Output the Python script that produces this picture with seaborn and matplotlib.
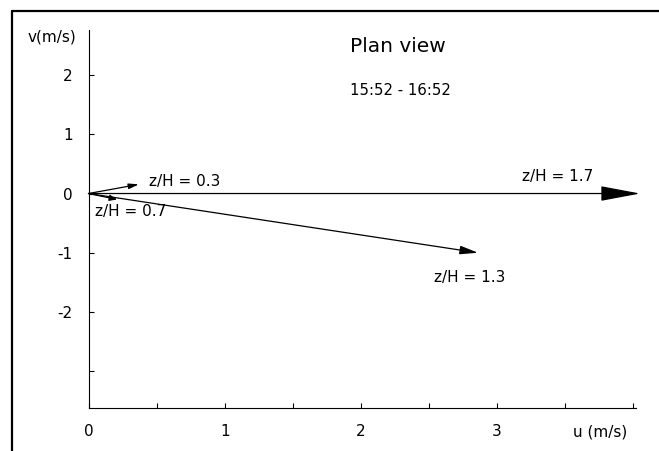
import matplotlib
matplotlib.use("Agg")
import matplotlib.pyplot as plt
from matplotlib.lines import Line2D
from matplotlib.ticker import MultipleLocator
import seaborn as sns

# velocity vectors (m/s) at each height
levels = ["z/H = 0.3", "z/H = 0.7", "z/H = 1.3", "z/H = 1.7"]
u_vals = [0.37, 0.21, 2.86, 4.05]
v_vals = [0.155, -0.10, -1.00, 0.0]

x_ticks = [0, 1, 2, 3, 4]
x_tick_labels = ["0", "1", "2", "3", ""]
y_ticks = [-3, -2, -1, 0, 1, 2]
y_tick_labels = ["", "-2", "-1", "0", "1", "2"]

# arrowhead sizes (points) and label offsets (points) per arrow
head_len = [6, 4.5, 11, 25]
head_wid = [1.6, 1.8, 2.6, 4.7]
label_off = [(7, 1.9, "left"), (-15.8, -8.4, "left"), (-31.7, -17.9, "left"), (-33.8, 12.1, "right")]

sns.set_style("ticks")
plt.rcParams["font.family"] = ["DejaVu Sans"]
plt.rcParams["text.color"] = "black"
plt.rcParams["xtick.color"] = "black"
plt.rcParams["ytick.color"] = "black"

W, H = 659, 451
fig = plt.figure(figsize=(W / 100, H / 100), dpi=100)
ax = fig.add_axes([88.5 / W, 1 - 408 / H, (636 - 88.5) / W, (408 - 30) / H])

ax.set_xlim(0, 4.02)
ax.set_ylim(-3.62, 2.76)

for i in range(len(levels)):
    ax.annotate("", xy=(u_vals[i], v_vals[i]), xytext=(0, 0),
                arrowprops=dict(arrowstyle=f"-|>,head_length={head_len[i]},head_width={head_wid[i]}",
                                mutation_scale=1, lw=0.9, color="black",
                                shrinkA=0, shrinkB=0),
                annotation_clip=False)
    dx, dy, ha = label_off[i]
    ax.annotate(levels[i], xy=(u_vals[i], v_vals[i]), xytext=(dx, dy),
                textcoords="offset points", ha=ha, va="center", fontsize=11,
                color="black", annotation_clip=False)

ax.set_xticks(x_ticks)
ax.set_xticklabels(x_tick_labels)
ax.xaxis.set_minor_locator(MultipleLocator(0.5))
ax.set_yticks(y_ticks)
ax.set_yticklabels(y_tick_labels)
ax.tick_params(which="both", direction="in", length=3.6, width=0.8, color="black")
ax.tick_params(axis="both", labelsize=11, pad=11.5, labelcolor="black")
sns.despine(ax=ax)
for s in ["left", "bottom"]:
    ax.spines[s].set_linewidth(0.8)
    ax.spines[s].set_color("black")

fig.text(51.7 / W, 1 - 36.7 / H, "v(m/s)", ha="center", va="center", fontsize=11)
fig.text(573 / W, 1 - 431.7 / H, "u (m/s)", ha="left", va="center", fontsize=11)
fig.text(350 / W, 1 - 46 / H, "Plan view", ha="left", va="center", fontsize=14.5)
fig.text(350 / W, 1 - 90.5 / H, "15:52 - 16:52", ha="left", va="center", fontsize=10.7)

# outer frame (top and left edges)
fig.add_artist(Line2D([12 / W, 1], [1 - 11 / H, 1 - 11 / H], color="black", lw=1.6))
fig.add_artist(Line2D([12 / W, 12 / W], [0, 1 - 11 / H], color="black", lw=1.6))

fig.savefig("out.png", dpi=100)
